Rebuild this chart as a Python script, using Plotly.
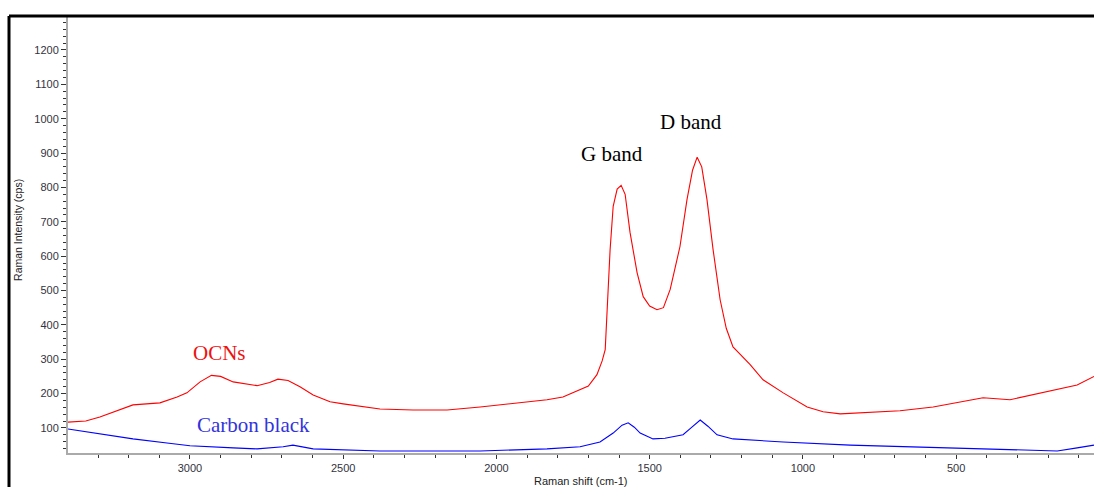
import plotly.graph_objects as go

# OCNs spectrum (Raman shift cm-1, intensity cps)
ocn_x = [3398, 3340, 3294, 3240, 3186, 3098, 3042, 3010, 2967, 2930, 2900, 2859, 2781, 2740, 2713,
         2680, 2641, 2598, 2543, 2500, 2435, 2380, 2272, 2161, 2053, 1946, 1835, 1783, 1727, 1700,
         1672, 1655, 1645, 1639, 1629, 1619, 1606, 1593, 1580, 1564, 1541, 1521, 1500, 1476, 1455,
         1433, 1401, 1378, 1360, 1345, 1330, 1313, 1293, 1270, 1250, 1228, 1172, 1130, 1064, 986,
         934, 878, 823, 758, 683, 575, 464, 412, 324, 249, 170, 105, 50]
ocn_y = [117, 120, 132, 150, 167, 173, 190, 202, 234, 253, 250, 234, 223, 232, 242,
         238, 220, 196, 176, 170, 161, 155, 152, 152, 161, 172, 182, 190, 211, 222,
         255, 295, 328, 435, 619, 745, 795, 806, 780, 669, 552, 482, 455, 444, 450,
         503, 628, 765, 850, 888, 860, 765, 619, 473, 390, 336, 284, 240, 202, 161,
         147, 141, 144, 147, 150, 161, 179, 188, 182, 196, 211, 225, 250]

# Carbon black spectrum
cb_x = [3398, 3294, 3186, 3075, 3000, 2859, 2781, 2696, 2664, 2598, 2380, 2053, 1835, 1727, 1662,
        1619, 1590, 1570, 1550, 1531, 1489, 1450, 1423, 1391, 1365, 1335, 1310, 1280, 1228, 1064,
        846, 519, 301, 170, 105, 50]
cb_y = [97, 82, 68, 56, 48, 42, 39, 45, 50, 39, 33, 33, 39, 45, 59,
        85, 108, 115, 102, 85, 68, 70, 74, 80, 100, 123, 105, 80, 68, 59,
        50, 42, 36, 33, 42, 50]

x_ticks = [3000, 2500, 2000, 1500, 1000, 500]
y_ticks = [100, 200, 300, 400, 500, 600, 700, 800, 900, 1000, 1100, 1200]

fig = go.Figure()
fig.add_trace(go.Scatter(x=ocn_x, y=ocn_y, mode="lines", line=dict(color="#ff0000", width=1.1),
                         name="OCNs", showlegend=False))
fig.add_trace(go.Scatter(x=cb_x, y=cb_y, mode="lines", line=dict(color="#0000ff", width=1.1),
                         name="Carbon black", showlegend=False))

tickfont = dict(family="Liberation Sans, Arial", size=11, color="#333340")
fig.update_xaxes(range=[3398, 50], tickvals=x_ticks, ticktext=[str(v) for v in x_ticks],
                 showgrid=False, zeroline=False, showline=True, linecolor="#aaaaaa", linewidth=2,
                 ticks="outside", ticklen=4, tickcolor="#333333", tickfont=tickfont,
                 minor=dict(dtick=100, tick0=0, ticks="outside", ticklen=3, tickcolor="#333333"))
fig.update_yaxes(range=[27, 1296], tickvals=y_ticks, ticktext=[str(v) for v in y_ticks],
                 showgrid=False, zeroline=False, showline=True, linecolor="#aaaaaa", linewidth=2,
                 ticks="outside", ticklen=5, tickcolor="#333333", tickfont=tickfont,
                 minor=dict(dtick=20, tick0=0, ticks="outside", ticklen=3, tickcolor="#333333"))

serif = "Liberation Serif, Times New Roman, serif"
fig.add_annotation(x=1623, y=897, text="G band", showarrow=False,
                   font=dict(family=serif, size=21, color="black"))
fig.add_annotation(x=1365, y=990, text="D band", showarrow=False,
                   font=dict(family=serif, size=21, color="black"))
fig.add_annotation(x=2905, y=319, text="OCNs", showarrow=False,
                   font=dict(family=serif, size=21, color="#ee1111"))
fig.add_annotation(x=2794, y=109, text="Carbon black", showarrow=False,
                   font=dict(family=serif, size=21, color="#3333dd"))

# axis titles
fig.add_annotation(xref="paper", yref="paper", x=0.5, y=-0.064, text="Raman shift (cm-1)",
                   showarrow=False, yanchor="middle",
                   font=dict(family="Liberation Sans, Arial", size=11, color="#222222"))
fig.add_annotation(xref="paper", yref="paper", x=-0.049, y=0.511, text="Raman Intensity (cps)",
                   showarrow=False, textangle=-90, xanchor="center", yanchor="middle",
                   font=dict(family="Liberation Sans, Arial", size=10.5, color="#222222"))

# outer frame
fig.add_shape(type="line", xref="paper", yref="paper", x0=-0.0575, x1=1.0, y0=1.0023, y1=1.0023,
              line=dict(color="black", width=3))
fig.add_shape(type="line", xref="paper", yref="paper", x0=-0.0575, x1=-0.0575, y0=1.0023, y1=-0.2,
              line=dict(color="black", width=3))

fig.update_layout(width=1094, height=487, margin=dict(l=68, r=0, t=17, b=34),
                  plot_bgcolor="white", paper_bgcolor="white")
fig.write_html("out.html")
